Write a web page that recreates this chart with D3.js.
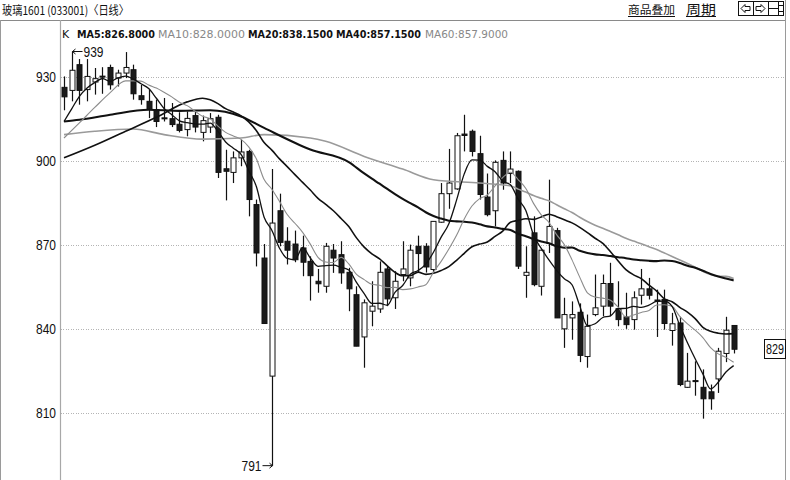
<!DOCTYPE html>
<html><head><meta charset="utf-8">
<script src="https://cdn.jsdelivr.net/npm/d3@7"></script>
<style>
html,body{margin:0;padding:0;background:#fff;}
svg{display:block;}
.narrow{font-family:"Liberation Sans Narrow","Arial Narrow","Liberation Sans",sans-serif;}
</style></head>
<body>
<svg id="c" width="790" height="480"></svg>
<script>
// ---- data ----
const opens  = [926.2,925.1,934.3,925.4,928.1,930.2,933.3,929.5,931.3,932.5,923.2,921.2,918.2,915.3,915,913,911.1,916.1,910.1,912,
                915.5,897.1,895.8,901,903.3,884.3,865.2,823,882.1,871.2,870.2,868.8,864,856.9,855.1,868,866.4,860.1,852.1,837,
                846.2,847,861.3,851,859.3,858.1,869.4,869.4,861.1,878,888.2,889.9,909.5,910.5,902.5,887,882.1,900.1,895.4,896.2,
                859,874.2,855.1,870.4,875,839.9,843.8,845.8,830,845,848,856.1,847.1,844.2,843.2,851.9,854.2,850.2,850.4,839.3,
                842,819,821.4,819,817.4,822,831.1,841.1];
const highs  = [930.1,939,936.3,936.3,933.1,933.4,934.3,932.5,938.8,934.3,927.1,925.4,921.8,922.4,920.6,917.3,917.6,917.6,916.1,917,
                916.4,903.9,903.3,907.5,903.9,886.1,870.2,897,888.2,876.2,875,873.2,865.8,861.3,870.6,870.2,871.2,861.7,855.1,850.4,
                856.9,864,862.3,860.5,871.2,870,873.2,870.5,878.3,892,904.2,909.9,916.4,911.1,908.9,895.4,900.1,903.3,903.3,896.5,
                869.4,880.1,868.2,893.2,876,851,849.7,849,845,859.3,859.3,863.5,856.9,852.8,853.3,861.3,858.1,853.9,853.9,845.6,
                844.2,831.3,828.3,825.4,820,833.1,844.2,841.1];
const lows   = [918,921.2,920,921.2,923.6,923.9,925.4,926.5,929.5,921.8,920,915.2,912,914,912,910.1,908.7,910.1,906.9,909.9,
                893.8,885.8,892,898,880.1,862.2,841.8,791,869.4,862.9,863.7,858.7,850,852.8,852.8,859.9,856,846.2,833.7,826,
                840.8,845.6,848,847,856.9,855.1,859.9,860,860,877.8,882.8,889.6,903.3,901.5,886.1,880.1,876.5,889.6,892,861.3,
                851,855.1,851.8,867,843.8,833.1,836,828,826,844.4,844.4,844.4,840.8,839.9,839.6,848.6,850.4,837,839.6,833.9,
                819.4,818.8,816,807.8,811,817,828,831.1];
const closes = [922.8,932.3,925.1,930.1,929.3,930,927.1,931.3,933.3,923.9,921.8,918.5,914,915,912.9,910.8,915.1,912,914.3,915,
                895.8,896.2,901,903.1,886.1,867,841.8,877.7,870.8,868,864.6,863.7,858.9,856,869.4,865.2,859.9,854.2,833.7,849.2,
                848,860.1,850.6,856.9,861.3,868,866.8,862,878.3,888.2,892,908.9,909,903.3,887.9,880.7,899.4,892,897,862.3,
                860.1,855.7,868,876.5,843.8,845,845,830.4,840.8,847.4,856.1,848,843.2,841.4,851,854.2,851.9,850,841.8,841.7,
                820,821.2,821.2,814.9,814.9,831.9,839.4,832.6];
// moving-average values before each window is full: [candle index, value]
const ma5Head  = [[0,914],[1,918.5],[2,923],[3,926]];
const ma10Head = [[0,908.1],[2,913.5],[4,919],[6,924.3],[8,928.5]];
const ma20Head = [[0,901],[4,905.5],[8,910.5],[12,915.5],[16,921],[18,922.3]];
const ma40Head = [[0,914],[2,914.6],[6,916.4],[11,918.2],[15,917.8],[19,918],[23,915.8],[26,911.7],[32,904],[37,899.5]];
const ma60Head = [[0,909.3],[4,910.5],[9,911.3],[13,909.3],[18,907.7],[23,908.1],[26,909.3],[32,908.1],[34,906.9],[39,901.5],[44,897],[48,893.2],[54,892],[58,891]];
const yTicks = [810,840,870,900,930];
const legendNames  = ["MA5","MA10","MA20","MA40","MA60"];
const legendValues = ["826.8000","828.0000","838.1500","857.1500","857.9000"];
const highLabel = "939", lowLabel = "791", lastLabel = "829";
const title = "玻璃1601 (033001)〈日线〉";
const menu = ["商品叠加","周期"];

// ---- drawing ----
const svg = d3.select("#c");
const n = closes.length;
const x = d3.scaleBand().domain(d3.range(n)).range([60.15, 737.5]).paddingInner(0.32).paddingOuter(0.16);
const cx = i => x(i) + x.bandwidth()/2;
const y = d3.scaleLinear().domain([810, 930]).range([412.5, 76.7]);
const W = 790, H = 480, plotL = 60.5, plotR = 785.5;

// frame
svg.append("line").attr("x1",0).attr("x2",plotR).attr("y1",20.5).attr("y2",20.5).attr("stroke","#8a8a8a");
svg.append("line").attr("x1",0.5).attr("x2",0.5).attr("y1",20).attr("y2",H).attr("stroke","#9a9a9a");
svg.append("line").attr("x1",plotL).attr("x2",plotL).attr("y1",20).attr("y2",H).attr("stroke","#a8a8a8").attr("stroke-width",1.2);
svg.append("line").attr("x1",plotR).attr("x2",plotR).attr("y1",0).attr("y2",H).attr("stroke","#9a9a9a");

// header
svg.append("text").attr("x",2).attr("y",15).attr("font-family","'Noto Sans CJK SC',sans-serif").attr("font-size",12)
  .attr("fill","#111").attr("textLength",127).attr("lengthAdjust","spacingAndGlyphs").text(title);
const menuX = [628, 686], menuW = [47, 30], menuF = [11.5, 13];
menu.forEach((m,i)=>{
  svg.append("text").attr("x",menuX[i]).attr("y",14).attr("font-family","'Noto Sans CJK SC',sans-serif")
    .attr("font-size",menuF[i]).attr("fill","#111").attr("textLength",menuW[i]).attr("lengthAdjust","spacingAndGlyphs").text(m);
  svg.append("line").attr("x1",menuX[i]).attr("x2",menuX[i]+menuW[i]).attr("y1",16.5).attr("y2",16.5).attr("stroke","#111");
});
// icons
const ic = svg.append("g").attr("stroke","#111").attr("fill","none").attr("stroke-width",1);
[738.5,753.5,768.5].forEach(a=>ic.append("rect").attr("x",a).attr("y",1.5).attr("width",15).attr("height",14));
ic.append("path").attr("d","M741,8.5 L745,4.5 L745,6.5 L750,6.5 L750,10.5 L745,10.5 L745,12.5 Z");
ic.append("path").attr("d","M765,8.5 L761,4.5 L761,6.5 L756,6.5 L756,10.5 L761,10.5 L761,12.5 Z");
ic.append("line").attr("x1",769).attr("x2",778).attr("y1",8.5).attr("y2",8.5);
ic.append("line").attr("x1",778.5).attr("x2",778.5).attr("y1",2).attr("y2",15);
ic.append("line").attr("x1",778.5).attr("x2",783).attr("y1",5.5).attr("y2",5.5);
ic.append("line").attr("x1",778.5).attr("x2",783).attr("y1",11.5).attr("y2",11.5);

// grid
const grid = svg.append("g").attr("transform",`translate(${plotL},0)`)
  .call(d3.axisRight(y).tickValues(yTicks).tickSize(plotR-plotL-1).tickFormat(""));
grid.select(".domain").remove();
grid.selectAll("line").attr("stroke","#b4b4b4").attr("stroke-dasharray","1,1.5").attr("shape-rendering","crispEdges");
// y labels
const ax = svg.append("g").attr("transform","translate(56,0)").call(d3.axisLeft(y).tickValues(yTicks).tickSize(0).tickPadding(0));
ax.select(".domain").remove();
ax.selectAll("text").attr("class","narrow").attr("font-size",14.5).attr("fill","#111").attr("font-family",null)
  .attr("textLength",20).attr("lengthAdjust","spacingAndGlyphs");

// legend
const lg = svg.append("g").attr("font-family","'DejaVu Sans',sans-serif").attr("font-size",11);
lg.append("text").attr("x",62).attr("y",38).attr("fill","#111").text("K");
const legX = [77, 158, 248, 336, 425];
const legW = [78, 87, 85, 85, 83];
const legCol = ["#111","#888","#111","#111","#888"];
legendNames.forEach((nm,i)=>{
  lg.append("text").attr("x",legX[i]).attr("y",38).attr("fill",legCol[i])
    .attr("font-weight", legCol[i]==="#111"?"bold":"normal")
    .attr("textLength",legW[i]).attr("lengthAdjust","spacingAndGlyphs")
    .text(nm+":"+legendValues[i]);
});

// moving averages
function ma(period, head){
  const pts = head.map(d=>[d[0],d[1]]);
  for(let i=period-1;i<n;i++){
    pts.push([i, d3.mean(closes.slice(i-period+1,i+1))]);
  }
  return pts;
}
const line = d3.line().x(d=>cx(d[0])).y(d=>y(d[1])).curve(d3.curveMonotoneX);
const maDefs = [
  {p:60, head:ma60Head, c:"#9a9a9a", w:1.6},
  {p:40, head:ma40Head, c:"#111", w:2.1},
  {p:20, head:ma20Head, c:"#111", w:1.6},
  {p:10, head:ma10Head, c:"#8c8c8c", w:1.1},
  {p:5,  head:ma5Head,  c:"#111", w:1.3},
];

// candles
const data = d3.range(n).map(i=>({i,o:opens[i],h:highs[i],l:lows[i],c:closes[i]}));
const cg = svg.append("g");
cg.selectAll("line.w").data(data).join("line").attr("class","w")
  .attr("x1",d=>Math.round(cx(d.i))+0.5).attr("x2",d=>Math.round(cx(d.i))+0.5)
  .attr("y1",d=>y(d.h)).attr("y2",d=>y(d.l)).attr("stroke","#111").attr("stroke-width",1.2);
cg.selectAll("rect").data(data).join("rect")
  .attr("x",d=>Math.round(cx(d.i))-2)
  .attr("width",5)
  .attr("y",d=>y(Math.max(d.o,d.c)))
  .attr("height",d=>Math.max(1,Math.abs(y(d.o)-y(d.c))))
  .attr("fill",d=>d.c>=d.o?"#fff":"#1a1a1a")
  .attr("stroke","#111").attr("stroke-width",1);

maDefs.forEach(m=>{
  svg.append("path").attr("d",line(ma(m.p,m.head))).attr("fill","none").attr("stroke",m.c).attr("stroke-width",m.w)
    .attr("stroke-linejoin","round");
});

// high / low annotations
const hi = d3.maxIndex(highs), lo = d3.minIndex(lows);
const an = svg.append("g").attr("class","narrow").attr("font-size",14.5).attr("fill","#111");
const hx = Math.round(cx(hi))+0.5, hy = y(highs[hi]);
svg.append("path").attr("d",`M${hx},${hy} L${hx+10},${hy} M${hx},${hy} l3,-2.5 M${hx},${hy} l3,2.5`).attr("stroke","#111").attr("fill","none");
an.append("text").attr("x",hx+11).attr("y",hy+5).attr("textLength",20).attr("lengthAdjust","spacingAndGlyphs").text(highLabel);
const lx = Math.round(cx(lo))+0.5, ly = y(lows[lo]);
svg.append("path").attr("d",`M${lx},${ly} L${lx-10},${ly} M${lx},${ly} l-3,-2.5 M${lx},${ly} l-3,2.5`).attr("stroke","#111").attr("fill","none");
an.append("text").attr("x",lx-11).attr("y",ly+5).attr("text-anchor","end").attr("textLength",20).attr("lengthAdjust","spacingAndGlyphs").text(lowLabel);

// last price box
const ly2 = y(closes[n-1]);
svg.append("rect").attr("x",764.5).attr("y",Math.round(ly2)-9.5).attr("width",21).attr("height",19).attr("fill","#fff").attr("stroke","#111");
svg.append("text").attr("class","narrow").attr("x",775).attr("y",Math.round(ly2)+5).attr("text-anchor","middle")
  .attr("font-size",14.5).attr("fill","#111").attr("textLength",18).attr("lengthAdjust","spacingAndGlyphs").text(lastLabel);
</script>
</body></html>
